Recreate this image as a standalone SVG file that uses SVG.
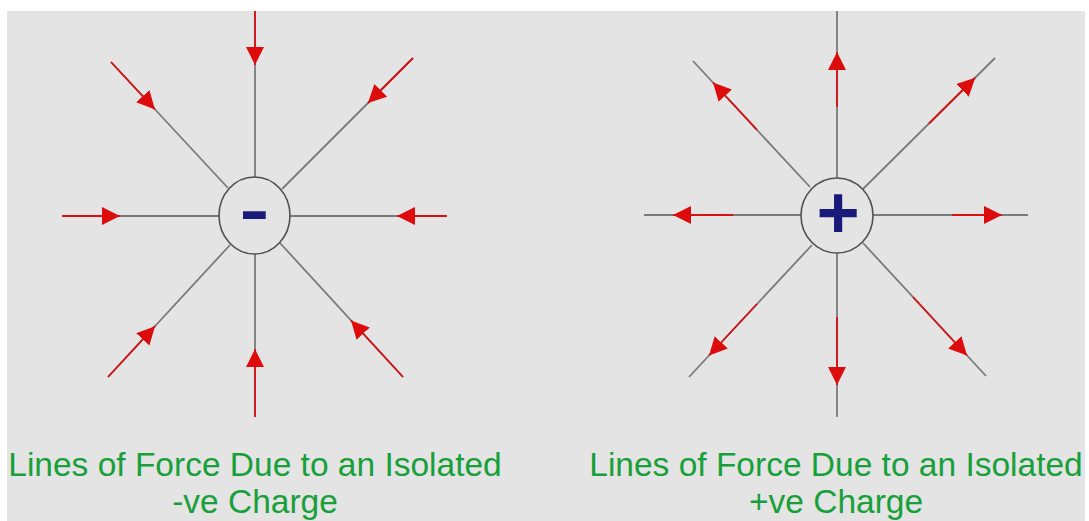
<svg xmlns="http://www.w3.org/2000/svg" width="1089" height="521" viewBox="0 0 1089 521">
<style>
.g{stroke:#7a7a7a;stroke-width:1.8;fill:none}
.r{stroke:#d81010;stroke-width:1.8;fill:none;marker-end:url(#ah)}
.c{fill:#e4e4e4;stroke:#505050;stroke-width:1.6}
.sign{font-family:"Liberation Sans",Arial,sans-serif;font-weight:bold;fill:#1a1a7a}
.lbl{font-family:"Liberation Sans",Arial,sans-serif;font-size:33.5px;fill:#17a03a;text-anchor:middle}
</style>
<defs>
<marker id="ah" markerUnits="userSpaceOnUse" markerWidth="20" markerHeight="20" refX="18" refY="9" orient="auto" viewBox="0 0 20 20">
<path d="M0,0 L18,9 L0,18 Z" fill="#dd0c0c"/>
</marker>
</defs>
<rect x="0" y="0" width="1089" height="521" fill="#ffffff"/>
<rect x="7" y="11" width="1078" height="510" fill="#e4e4e4"/>
<g id="connectors">
<g id="neg-lines">
<path class="g" d="M255,11 L255,177"/>
<path class="g" d="M111,62 L228,188"/>
<path class="g" d="M413,58 L282,189"/>
<path class="g" d="M62,216 L219,216"/>
<path class="g" d="M447,216 L290,216"/>
<path class="g" d="M108,377 L230,245"/>
<path class="g" d="M255,417 L255,254"/>
<path class="g" d="M403,377 L280,243"/>
<path class="r" d="M255,11 L255,65"/>
<path class="r" d="M111,62 L155,109.4"/>
<path class="r" d="M413,58 L368,103"/>
<path class="r" d="M62,216 L120,216"/>
<path class="r" d="M447,216 L397,216"/>
<path class="r" d="M108,377 L155,326.2"/>
<path class="r" d="M255,417 L255,349"/>
<path class="r" d="M403,377 L351,320.4"/>
</g>
<g id="pos-lines">
<path class="g" d="M837,178 L837,11"/>
<path class="g" d="M810,187 L693,61"/>
<path class="g" d="M863,189 L995,58"/>
<path class="g" d="M801,215 L644,215"/>
<path class="g" d="M873,215 L1028,215"/>
<path class="g" d="M812,245 L689,377"/>
<path class="g" d="M837,253 L837,417"/>
<path class="g" d="M863,243 L986,376"/>
<path class="r" d="M837,107 L837,52"/>
<path class="r" d="M757,129.9 L713,82.5"/>
<path class="r" d="M929,123.5 L975.2,77.7"/>
<path class="r" d="M733,215 L673,215"/>
<path class="r" d="M952,215 L1002,215"/>
<path class="r" d="M757,304 L709,355.5"/>
<path class="r" d="M837,317 L837,385"/>
<path class="r" d="M913,297 L967,355.5"/>
</g>
</g>
<g id="neg-charge">
<ellipse class="c" cx="254.5" cy="215.5" rx="35.5" ry="38.5"/>
<text class="sign" x="254.5" y="232" font-size="64" text-anchor="middle" transform="translate(254.5 0) scale(1.4 1) translate(-254.5 0)">-</text>
</g>
<g id="pos-charge">
<ellipse class="c" cx="837" cy="215.5" rx="36" ry="37.5"/>
<text class="sign" x="838" y="238" font-size="74" text-anchor="middle">+</text>
</g>
<g id="neg-label">
<text class="lbl" x="255" y="476">Lines of Force Due to an Isolated</text>
<text class="lbl" x="255" y="513">-ve Charge</text>
</g>
<g id="pos-label">
<text class="lbl" x="836" y="476">Lines of Force Due to an Isolated</text>
<text class="lbl" x="836" y="513">+ve Charge</text>
</g>
</svg>
